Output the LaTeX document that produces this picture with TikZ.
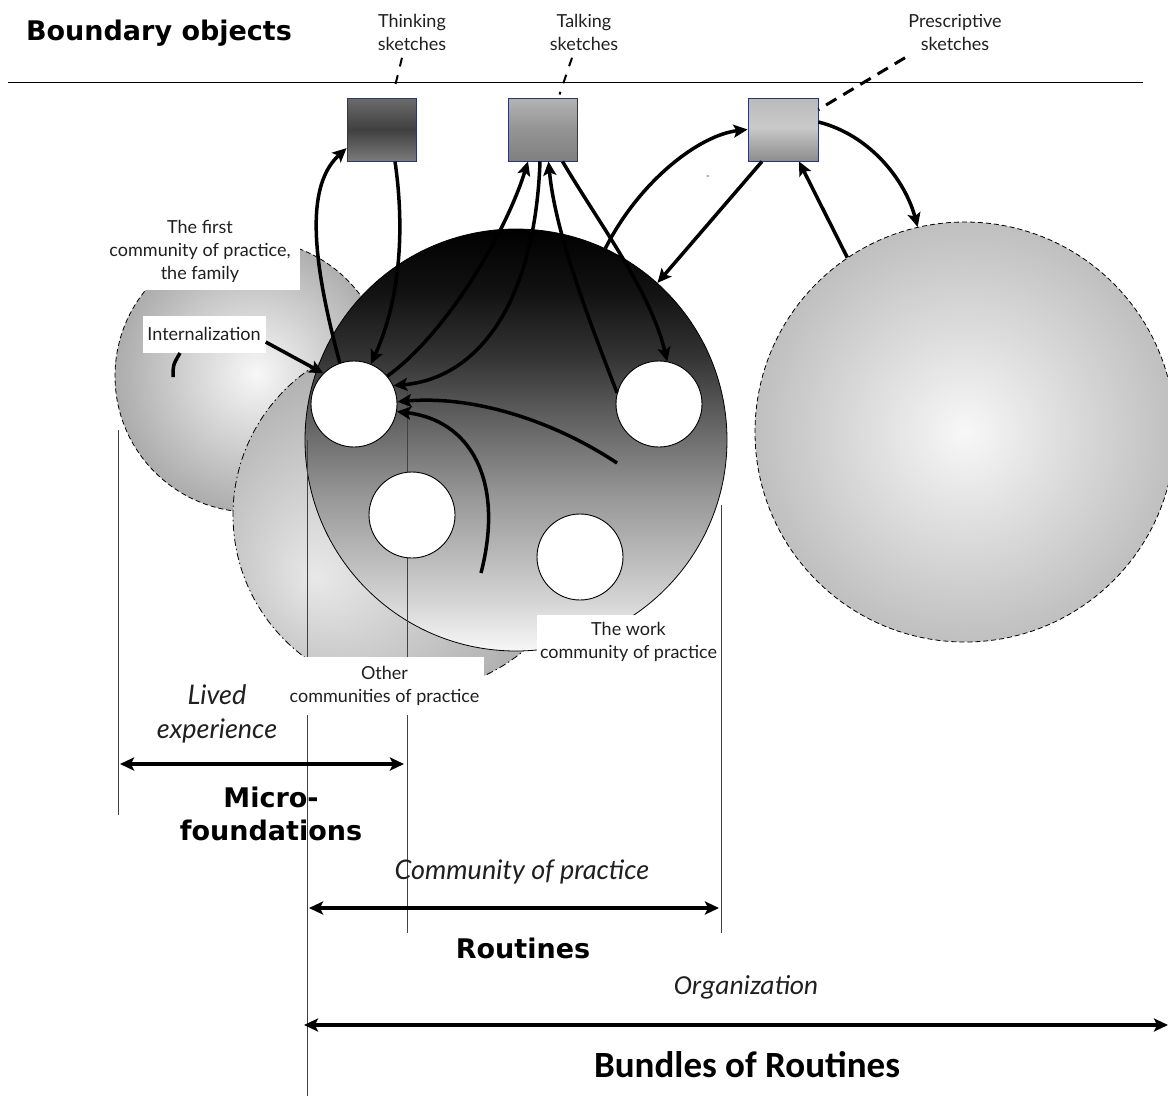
\documentclass[tikz,border=0pt]{standalone}
\usepackage{fontspec}
\setmainfont{Lato}
\newfontfamily\orgfont{Carlito}
\newfontfamily\headfont{DejaVu Sans}
\usetikzlibrary{arrows.meta,positioning}

\definecolor{boxblue}{RGB}{40,55,110}
\definecolor{inkgray}{gray}{0.12}

% fills of the communities (path box = middle 50bp)
\pgfdeclareverticalshading{darkcop}{100bp}{color(0bp)=(black!3); color(25bp)=(black!3); color(31bp)=(black!17); color(43bp)=(black!40); color(52.5bp)=(black!62); color(60bp)=(black!80); color(67.5bp)=(black!93); color(75bp)=(black); color(100bp)=(black)}
\pgfdeclareradialshading{familycop}{\pgfpoint{1bp}{0.5bp}}{color(0bp)=(black!3); color(25bp)=(black!32); color(50bp)=(black!36)}
\pgfdeclareradialshading{othercop}{\pgfpoint{-13.5bp}{-9bp}}{color(0bp)=(black!9); color(37.5bp)=(black!40); color(50bp)=(black!45)}
\pgfdeclareradialshading{orgcop}{\pgfpoint{0bp}{0bp}}{color(0bp)=(black!3); color(25bp)=(black!25); color(50bp)=(black!28)}
% fills of the sketches
\pgfdeclareverticalshading{thinkfill}{100bp}{color(0bp)=(black!52); color(25bp)=(black!52); color(50bp)=(black!75); color(75bp)=(black!58); color(100bp)=(black!58)}
\pgfdeclareverticalshading{talkfill}{100bp}{color(0bp)=(black!50); color(25bp)=(black!50); color(50bp)=(black!42); color(75bp)=(black!30); color(100bp)=(black!30)}
\pgfdeclareverticalshading{prescfill}{100bp}{color(0bp)=(black!45); color(25bp)=(black!45); color(52bp)=(black!21); color(75bp)=(black!27); color(100bp)=(black!27)}

\tikzset{
  sphere/.style={circle, inner sep=0pt, draw=black, line width=0.8pt},
  hole/.style={circle, draw, fill=white, inner sep=0pt, minimum size=86pt, line width=0.9pt},
  sketchbox/.style={draw=boxblue, line width=0.9pt, inner sep=0pt, minimum width=69pt, minimum height=63pt},
  flow/.style={line width=3.5pt, -{Stealth[length=14pt,width=13pt,inset=3pt]}},
  spanarrow/.style={line width=3.6pt, {Stealth[length=14pt,width=13pt,inset=3pt]}-{Stealth[length=14pt,width=13pt,inset=3pt]}},
  guide/.style={line width=0.9pt, black!75},
  leader/.style={line width=2pt, dash pattern=on 9pt off 9pt},
  whitebox/.style={fill=white, inner sep=0pt},
  smalllbl/.style={font=\fontsize{18}{23}\selectfont, text=inkgray, align=center},
  scopelbl/.style={font=\fontsize{27}{34}\selectfont\itshape, text=inkgray, align=center},
  levellbl/.style={font=\headfont\fontsize{27}{33}\selectfont\bfseries, align=center}
}

\begin{document}
\begin{tikzpicture}[x=1pt,y=-1pt]
\useasboundingbox (0,0) rectangle (1168,1096);

% communities
\node[sphere, shade, shading=familycop, dash pattern=on 5pt off 3pt, minimum size=272pt] (family) at (251,376) {};
\node[sphere, shade, shading=othercop, dash pattern=on 7pt off 3pt on 1.5pt off 3pt, minimum size=354pt] (other) at (410,515) {};
\node[sphere, shade, shading=darkcop, minimum size=422pt] (work) at (516,440) {};
\node[sphere, shade, shading=orgcop, dash pattern=on 5pt off 3pt, minimum size=420pt] (org) at (965,432) {};

% rule and guides
\coordinate (rulestart) at (8,82);
\coordinate (ruleend) at (1143,82);
\draw[line width=1pt] (rulestart) -- (ruleend);
\foreach \x/\a/\b in {118/430/815, 307/440/1096, 407/392/933, 721/505/933}{
  \coordinate (gtop\x) at (\x,\a);
  \coordinate (gbot\x) at (\x,\b);
  \draw[guide] (gtop\x) -- (gbot\x);
}

% members
\node[hole] (holeA) at (354,404) {};
\node[hole] (holeB) at (659,404) {};
\node[hole] (holeC) at (412,515) {};
\node[hole] (holeD) at (580,557) {};

% sketches
\node[sketchbox, shade, shading=thinkfill] (think) at (381.5,129.5) {};
\node[sketchbox, shade, shading=talkfill] (talk) at (542.5,129.5) {};
\node[sketchbox, shade, shading=prescfill, minimum width=70pt] (presc) at (783,129.5) {};

% labels on white
\node[whitebox, smalllbl, minimum width=200pt, minimum height=78pt] (famlbl) at (200,251) {The first\\community of practice,\\the family};
\node[whitebox, smalllbl, minimum width=123pt, minimum height=37pt] (intern) at (204,334) {Internalization};
\node[whitebox, smalllbl, minimum width=199pt, minimum height=58pt] (otherlbl) at (384.5,686) {Other\\communities of practice};
\node[whitebox, smalllbl, minimum width=183pt, minimum height=54pt] (worklbl) at (628.5,642) {The work\\community of practice};

% flows
\draw[flow] (holeA.109) .. controls (305,235) and (312,180) .. (think.208);
\draw[flow] ([xshift=13.5pt]think.south) .. controls (405,230) and (400,300) .. (holeA.67);
\draw[flow] (holeA.40) .. controls (445,335) and (505,235) .. ([xshift=-14.5pt]talk.south);
\draw[flow] ([xshift=-2.5pt]talk.south) .. controls (535,300) and (480,378) .. (holeA.25);
\draw[flow] (holeB.165) .. controls (585,310) and (555,230) .. ([xshift=6pt]talk.south);
\draw[flow] ([xshift=20pt]talk.south) .. controls (600,225) and (650,290) .. (holeB.79);
\coordinate (tailB) at (617,463);
\draw[flow] (tailB) .. controls (560,425) and (480,395) .. (holeA.3);
\coordinate (tailD) at (481,573);
\draw[flow] (tailD) .. controls (505,480) and (470,420) .. (holeA.-10);
\draw[flow] ([yshift=-8pt]intern.east) -- (holeA.135);
\draw[flow] (work.65) .. controls (640,180) and (700,135) .. (presc.west);
\draw[flow] ([xshift=-21pt]presc.south) -- (work.48);
\draw[flow] (org.124) -- ([xshift=16pt]presc.south);
\draw[flow] ([yshift=7.5pt]presc.east) .. controls (870,135) and (905,180) .. (org.103);
\coordinate (mark1) at (173,377);
\coordinate (mark2) at (180,353);
\draw[line width=3.5pt] (mark1) .. controls (173,365) .. (mark2);

% boundary objects
\node[font=\headfont\fontsize{27}{30}\selectfont\bfseries] (title) at (159,33) {Boundary objects};
\node[smalllbl] (thinklbl) at (412,32) {Thinking\\sketches};
\node[smalllbl] (talklbl) at (584,32) {Talking\\sketches};
\node[smalllbl] (presclbl) at (955,32) {Prescriptive\\sketches};
\draw[leader] ([xshift=-10pt,yshift=-4pt]thinklbl.south) -- ([xshift=12pt,yshift=5pt]think.north);
\draw[leader] ([xshift=-12pt,yshift=-4pt]talklbl.south) -- ([xshift=17pt,yshift=3pt]talk.north);
\draw[leader, line width=3pt, dash pattern=on 12pt off 8pt] ([xshift=-50pt,yshift=-4pt]presclbl.south) -- ([yshift=-12pt]presc.north east);
\node[text=boxblue, font=\fontsize{10}{10}\selectfont] (stray) at (708,178) {-};

% scales
\node[scopelbl] (lived) at (217,714) {Lived\\experience};
\coordinate (microL) at (120,764);
\coordinate (microR) at (404,764);
\draw[spanarrow] (microL) -- (microR);
\node[levellbl] (micro) at (271,814) {Micro-\\foundations};

\node[scopelbl] (coplbl) at (522,872) {Community of practice};
\coordinate (routL) at (309,908);
\coordinate (routR) at (719,908);
\draw[spanarrow] (routL) -- (routR);
\node[levellbl] (routines) at (523,948) {Routines};

\node[scopelbl, font=\orgfont\fontsize{27.5}{30}\selectfont\itshape] (orglbl) at (746,987) {Organization};
\coordinate (bundL) at (304,1025);
\coordinate (bundR) at (1168,1025);
\draw[spanarrow] (bundL) -- (bundR);
\node[levellbl, font=\orgfont\fontsize{37}{40}\selectfont\bfseries] (bundles) at (747,1065) {Bundles of Routines};
\end{tikzpicture}
\end{document}
